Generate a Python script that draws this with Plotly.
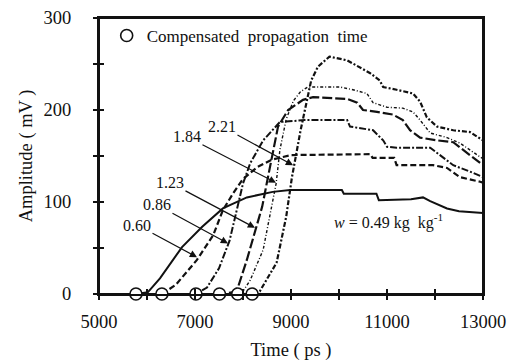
import plotly.graph_objects as go

# ---- data (time in ps, amplitude in mV) ----
w049_t = [5000, 5770, 6020, 6270, 6730, 7150, 7580, 8080, 8620, 8980, 10060, 10100, 10780, 10830, 11500, 11750, 11900, 12100, 12250, 12500, 13000]
w049_a = [0, 0, 2, 17, 51, 73, 93, 105, 111, 113, 113, 109, 109, 102, 103, 105, 101, 96, 93, 90, 88]

w060_t = [5000, 6310, 6600, 7040, 7380, 7580, 7800, 8000, 8300, 8600, 9000, 10650, 10700, 11150, 11200, 11960, 12250, 12520, 12940, 13000]
w060_a = [0, 0, 10, 37, 64, 91, 110, 125, 138, 146, 151, 152, 148, 148, 140, 140, 137, 127, 122, 121]

w086_t = [5000, 7020, 7250, 7500, 7720, 7875, 8000, 8150, 8420, 8770, 9290, 10170, 10230, 10710, 10920, 11000, 11200, 11900, 12100, 12380, 12730, 13000]
w086_a = [0, 0, 7, 28, 58, 91, 120, 142, 167, 187, 189, 189, 182, 178, 167, 160, 159, 159, 151, 140, 133, 127]

w123_t = [5000, 7510, 7800, 7900, 8080, 8270, 8400, 8520, 8600, 8730, 8940, 9250, 9460, 10170, 10380, 10500, 10790, 11125, 11330, 11480, 11690, 12040, 12380, 12580, 12940, 13000]
w123_a = [0, 0, 2, 8, 37, 70, 95, 127, 149, 182, 200, 211, 214, 212, 208, 200, 198, 195, 189, 178, 170, 167, 165, 157, 142, 140]

w184_t = [5000, 7890, 8000, 8150, 8420, 8560, 8690, 8770, 8900, 9050, 9200, 9350, 10020, 10290, 10580, 10710, 11000, 11330, 11540, 11690, 11900, 12250, 12520, 12940, 13000]
w184_a = [0, 0, 3, 15, 48, 84, 120, 157, 190, 210, 220, 225, 225, 222, 218, 208, 203, 202, 198, 189, 175, 170, 164, 149, 147]

w221_t = [5000, 8190, 8350, 8700, 8900, 9020, 9200, 9420, 9560, 9800, 10170, 10440, 10650, 10850, 10920, 11200, 11540, 11690, 11830, 12040, 12380, 12730, 13000]
w221_a = [0, 0, 3, 34, 84, 127, 178, 232, 247, 258, 254, 246, 240, 232, 225, 222, 218, 209, 192, 182, 178, 176, 167]

circle_t = [5770, 6310, 7020, 7510, 7890, 8190]
circle_a = [0, 0, 0, 0, 0, 0]

labels = ["0.60", "0.86", "1.23", "1.84", "2.21"]
label_tail_t = [5792, 6208, 6479, 6833, 7562]
label_tail_a = [75, 97, 121, 171, 182]
label_tip_t = [7042, 7688, 8250, 8688, 9042]
label_tip_a = [40, 55, 72, 121, 140]

x_range = [5000, 13000]
y_range = [0, 300]
x_ticks = [5000, 7000, 9000, 11000, 13000]
x_ticktext = ["5000", "7000", "9000", "11000", "13000"]
x_all_ticks = [5000, 6000, 7000, 8000, 9000, 10000, 11000, 12000, 13000]
y_ticks = [0, 100, 200, 300]
y_ticktext = ["0", "100", "200", "300"]
y_all_ticks = [0, 50, 100, 150, 200, 250, 300]

FONT = "Liberation Serif"
INK = "#111111"
TICK_FS = 18.5

series = [
    ("0.49", w049_t, w049_a, "solid", 2.0),
    ("0.60", w060_t, w060_a, "6px,3px", 2.2),
    ("0.86", w086_t, w086_a, "7px,2px,2px,2px", 2.0),
    ("1.23", w123_t, w123_a, "10px,3px", 2.2),
    ("1.84", w184_t, w184_a, "3px,2px,1px,2px", 1.4),
    ("2.21", w221_t, w221_a, "5px,2px,2px,2px", 2.2),
]

fig = go.Figure()

# plot-area frame, built from the axis ranges
fig.add_trace(go.Scatter(x=[x_range[0], x_range[1], x_range[1], x_range[0], x_range[0]],
                         y=[y_range[0], y_range[0], y_range[1], y_range[1], y_range[0]],
                         mode="lines", line=dict(color=INK, width=2), cliponaxis=False,
                         showlegend=False, hoverinfo="skip"))

for name, t, a, dash, w in series:
    fig.add_trace(go.Scatter(x=t, y=a, mode="lines", name=name, showlegend=False,
                             line=dict(color=INK, width=w, dash=dash)))

fig.add_trace(go.Scatter(x=circle_t, y=circle_a, mode="markers",
                         name="Compensated\u00a0 propagation\u00a0 time",
                         showlegend=True, cliponaxis=False,
                         marker=dict(symbol="circle", size=12, color="white",
                                     line=dict(color=INK, width=1.6))))

for lab, tx, ta, hx, ha in zip(labels, label_tail_t, label_tail_a, label_tip_t, label_tip_a):
    fig.add_annotation(x=hx, y=ha, ax=tx, ay=ta, axref="x", ayref="y", xref="x", yref="y",
                       text=lab, showarrow=True, arrowhead=2, arrowsize=1.2, arrowwidth=1.2,
                       arrowcolor=INK, font=dict(family=FONT, size=16, color=INK))

fig.add_annotation(x=11021, y=79, xref="x", yref="y", showarrow=False,
                   text="<i>w</i> = 0.49 kg\u00a0 kg<sup>-1</sup>",
                   font=dict(family=FONT, size=16, color=INK))

tick_common = dict(showline=False, showgrid=False, zeroline=False, showticklabels=False,
                   ticklen=5, tickwidth=1.6, tickcolor=INK, tickmode="array")

fig.update_layout(
    width=520, height=361,
    margin=dict(l=99, r=37, t=18, b=67, autoexpand=False),
    paper_bgcolor="white", plot_bgcolor="white",
    font=dict(family=FONT, size=TICK_FS, color=INK),
    xaxis=dict(range=x_range, tickmode="array", tickvals=x_ticks, ticktext=x_ticktext,
               ticks="outside", ticklen=10, tickcolor="rgba(0,0,0,0)", automargin=False,
               showgrid=False, zeroline=False, showline=True, mirror=True,
               linecolor=INK, linewidth=2,
               tickfont=dict(family=FONT, size=TICK_FS, color=INK),
               title=dict(text="Time ( ps )", font=dict(family=FONT, size=TICK_FS, color=INK), standoff=12)),
    yaxis=dict(range=y_range, tickmode="array", tickvals=y_ticks, ticktext=y_ticktext,
               ticks="outside", ticklen=22, tickcolor="rgba(0,0,0,0)", automargin=False,
               showgrid=False, zeroline=False, showline=True, mirror=True,
               linecolor=INK, linewidth=2,
               tickfont=dict(family=FONT, size=TICK_FS, color=INK),
               title=dict(text="Amplitude ( mV )", font=dict(family=FONT, size=TICK_FS, color=INK), standoff=6)),
    xaxis2=dict(overlaying="x", range=x_range, tickvals=x_all_ticks, ticks="inside", side="bottom", **tick_common),
    xaxis3=dict(overlaying="x", range=x_range, tickvals=x_all_ticks, ticks="outside", side="bottom", **tick_common),
    yaxis2=dict(overlaying="y", range=y_range, tickvals=y_all_ticks, ticks="inside", side="left", **tick_common),
    yaxis3=dict(overlaying="y", range=y_range, tickvals=y_all_ticks, ticks="outside", side="left", **tick_common),
    legend=dict(x=0.02, y=0.935, xanchor="left", yanchor="middle", bgcolor="rgba(0,0,0,0)",
                font=dict(family=FONT, size=17, color=INK)),
)

# invisible helper traces to activate the tick overlay axes
for xa, ya in [("x2", "y2"), ("x3", "y3")]:
    fig.add_trace(go.Scatter(x=[x_range[0]], y=[y_range[0]], xaxis=xa, yaxis=ya, mode="markers",
                             marker=dict(opacity=0), showlegend=False, hoverinfo="skip"))

fig.write_html("out.html")
